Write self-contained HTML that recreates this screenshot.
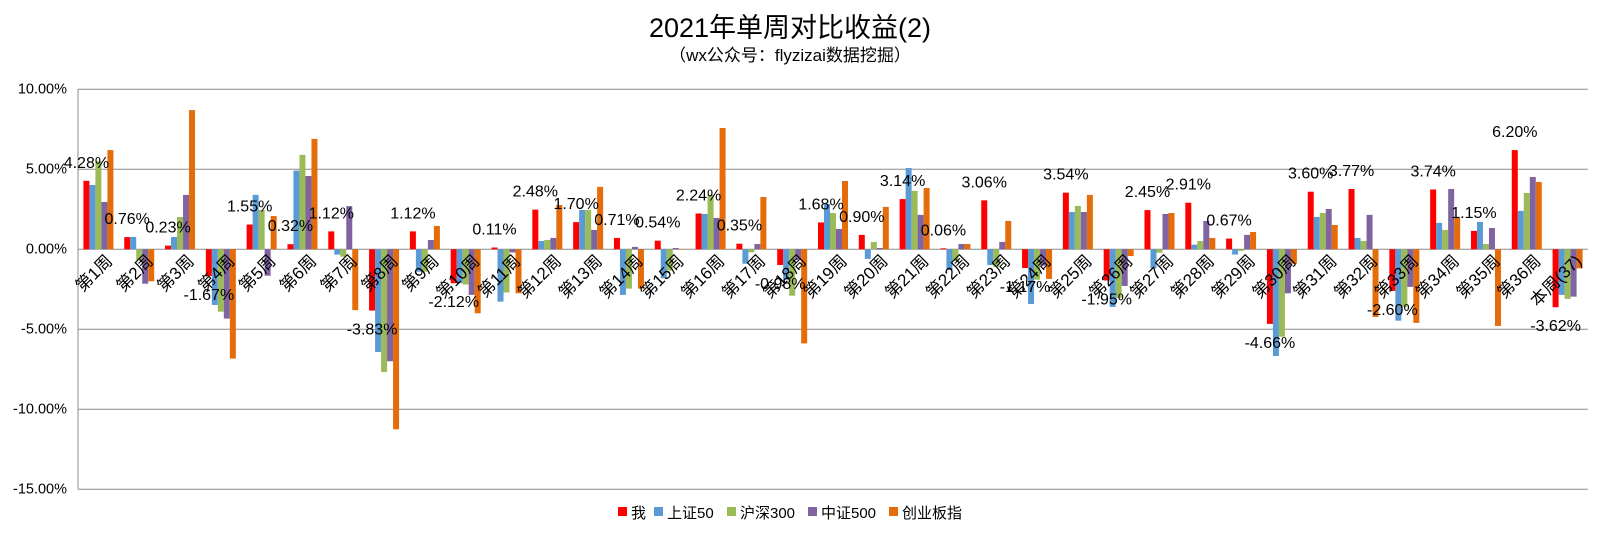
<!DOCTYPE html>
<html><head><meta charset="utf-8">
<style>
html,body{margin:0;padding:0;background:#fff;}
svg{display:block;font-family:"Liberation Sans","Noto Sans CJK SC",sans-serif;}
</style></head>
<body>
<svg id="chart" width="1598" height="540" viewBox="0 0 1598 540">
<text x="790" y="37" text-anchor="middle" font-size="27" fill="#000">2021年单周对比收益(2)</text>
<text x="790" y="61" text-anchor="middle" font-size="17" fill="#000">（wx公众号：flyzizai数据挖掘）</text>
<g id="grid"></g>
<g id="yaxis"></g>
<g id="bars"></g>
<g id="xaxis"></g>
<g id="labels"></g>
<g id="legend"></g>
</svg>
<script>
const categories = ["第1周","第2周","第3周","第4周","第5周","第6周","第7周","第8周","第9周","第10周","第11周","第12周","第13周","第14周","第15周","第16周","第17周","第18周","第19周","第20周","第21周","第22周","第23周","第24周","第25周","第26周","第27周","第28周","第29周","第30周","第31周","第32周","第33周","第34周","第35周","第36周","本周(37)"];
const seriesNames = ["我","上证50","沪深300","中证500","创业板指"];
const me = [4.28,0.76,0.23,-1.67,1.55,0.32,1.12,-3.83,1.12,-2.12,0.11,2.48,1.70,0.71,0.54,2.24,0.35,-0.98,1.68,0.90,3.14,0.06,3.06,-1.17,3.54,-1.95,2.45,2.91,0.67,-4.66,3.60,3.77,-2.60,3.74,1.15,6.20,-3.62];
const sz50 = [4.02,0.77,0.77,-3.48,3.40,4.92,-0.33,-6.42,-1.40,-2.12,-3.27,0.52,2.46,-2.85,-1.81,2.21,-0.90,-1.90,2.83,-0.60,5.08,-1.30,-0.98,-3.42,2.33,-3.60,-1.19,0.29,-0.33,-6.67,2.02,0.71,-4.46,1.65,1.71,2.40,-2.85];
const hs300 = [5.50,-0.67,2.02,-3.90,2.46,5.90,-0.46,-7.67,-1.40,-2.20,-2.70,0.58,2.46,-2.46,-1.33,3.40,-0.19,-2.90,2.27,0.46,3.65,-0.73,-1.10,-1.90,2.71,-3.04,-0.21,0.52,-0.10,-5.46,2.27,0.52,-3.60,1.21,0.33,3.52,-3.10];
const zz500 = [2.96,-2.15,3.40,-4.33,-1.65,4.58,2.70,-7.00,0.58,-2.85,-0.20,0.71,1.21,0.15,0.08,1.96,0.33,-0.67,1.27,0.08,2.15,0.33,0.46,-1.02,2.33,-2.29,2.21,1.77,0.90,-2.75,2.52,2.15,-2.35,3.77,1.33,4.52,-2.96];
const cyb = [6.20,-2.00,8.70,-6.83,2.08,6.90,-3.80,-11.25,1.46,-4.00,-2.75,2.77,3.90,-2.46,0.02,7.58,3.27,-5.88,4.27,2.65,3.83,0.33,1.77,-1.85,3.40,-0.42,2.27,0.71,1.08,-0.90,1.52,-4.23,-4.60,2.02,-4.79,4.21,-1.19];
const yTicks = [10,5,0,-5,-10,-15];
const yTickLabels = ["10.00%","5.00%","0.00%","-5.00%","-10.00%","-15.00%"];

const colors = ["#FF0000","#5B9BD5","#9BBB59","#8064A2","#E46C0A"];
const series = [me, sz50, hs300, zz500, cyb];
const NS = "http://www.w3.org/2000/svg";
const plotL = 78, plotR = 1588, plotT = 89.3, plotB = 489.3;
const yMax = 10, yMin = -15;
function yScale(v){ return plotT + (yMax - v) / (yMax - yMin) * (plotB - plotT); }
const catW = (plotR - plotL) / categories.length;
function xCat(i){ return plotL + i * catW; }
const barW = 6, groupOff = (catW - barW * 5) / 2;
function mk(tag, attrs, parent){ const e = document.createElementNS(NS, tag); for (const k in attrs) e.setAttribute(k, attrs[k]); parent.appendChild(e); return e; }

const grid = document.getElementById('grid');
const yaxis = document.getElementById('yaxis');
yTicks.forEach((t, i) => {
  const y = yScale(t);
  const l = mk('line', {x1: plotL, x2: plotR, y1: y, y2: y, stroke: '#8c8c8c', 'stroke-width': 1}, grid);
  
  
  const tx = mk('text', {x: 67, y: y + 4, 'text-anchor': 'end', 'font-size': 14.5, fill: '#000'}, yaxis);
  tx.textContent = yTickLabels[i];
  
  
});
const ax = mk('line', {x1: plotL, x2: plotL, y1: plotT, y2: plotB, stroke: '#8c8c8c', 'stroke-width': 1}, yaxis);



const bars = document.getElementById('bars');
const y0 = yScale(0);
categories.forEach((c, i) => {
  series.forEach((s, k) => {
    const v = s[i];
    const y = yScale(v);
    const r = mk('rect', {x: xCat(i) + groupOff + k * barW, y: Math.min(y, y0), width: barW, height: Math.max(Math.abs(y - y0), 0.5), fill: colors[k]}, bars);
    
    
  });
});

const xaxis = document.getElementById('xaxis');
categories.forEach((c, i) => {
  const cx = xCat(i) + catW / 2 + 15;
  const t = mk('text', {x: cx, y: 262, 'text-anchor': 'end', 'font-size': 17, fill: '#000', transform: `rotate(-45 ${cx} 262)`}, xaxis);
  t.textContent = c;
  
  
});

const labels = document.getElementById('labels');
me.forEach((v, i) => {
  const cx = xCat(i) + groupOff + barW / 2;
  const y = yScale(v);
  const ty = v >= 0 ? y - 19 + 6 : y + 18 + 6;
  const t = mk('text', {x: cx, y: ty, 'text-anchor': 'middle', 'font-size': 16, fill: '#000'}, labels);
  t.textContent = v.toFixed(2) + '%';
  
  
});

const legend = document.getElementById('legend');
const legX = [618, 654, 727, 808, 889];
seriesNames.forEach((n, k) => {
  const r = mk('rect', {x: legX[k], y: 507, width: 9, height: 9, fill: colors[k]}, legend);
  
  
  const t = mk('text', {x: legX[k] + 13, y: 518, 'font-size': 15, fill: '#000'}, legend);
  t.textContent = n;
  
  
});
</script>
</body></html>
